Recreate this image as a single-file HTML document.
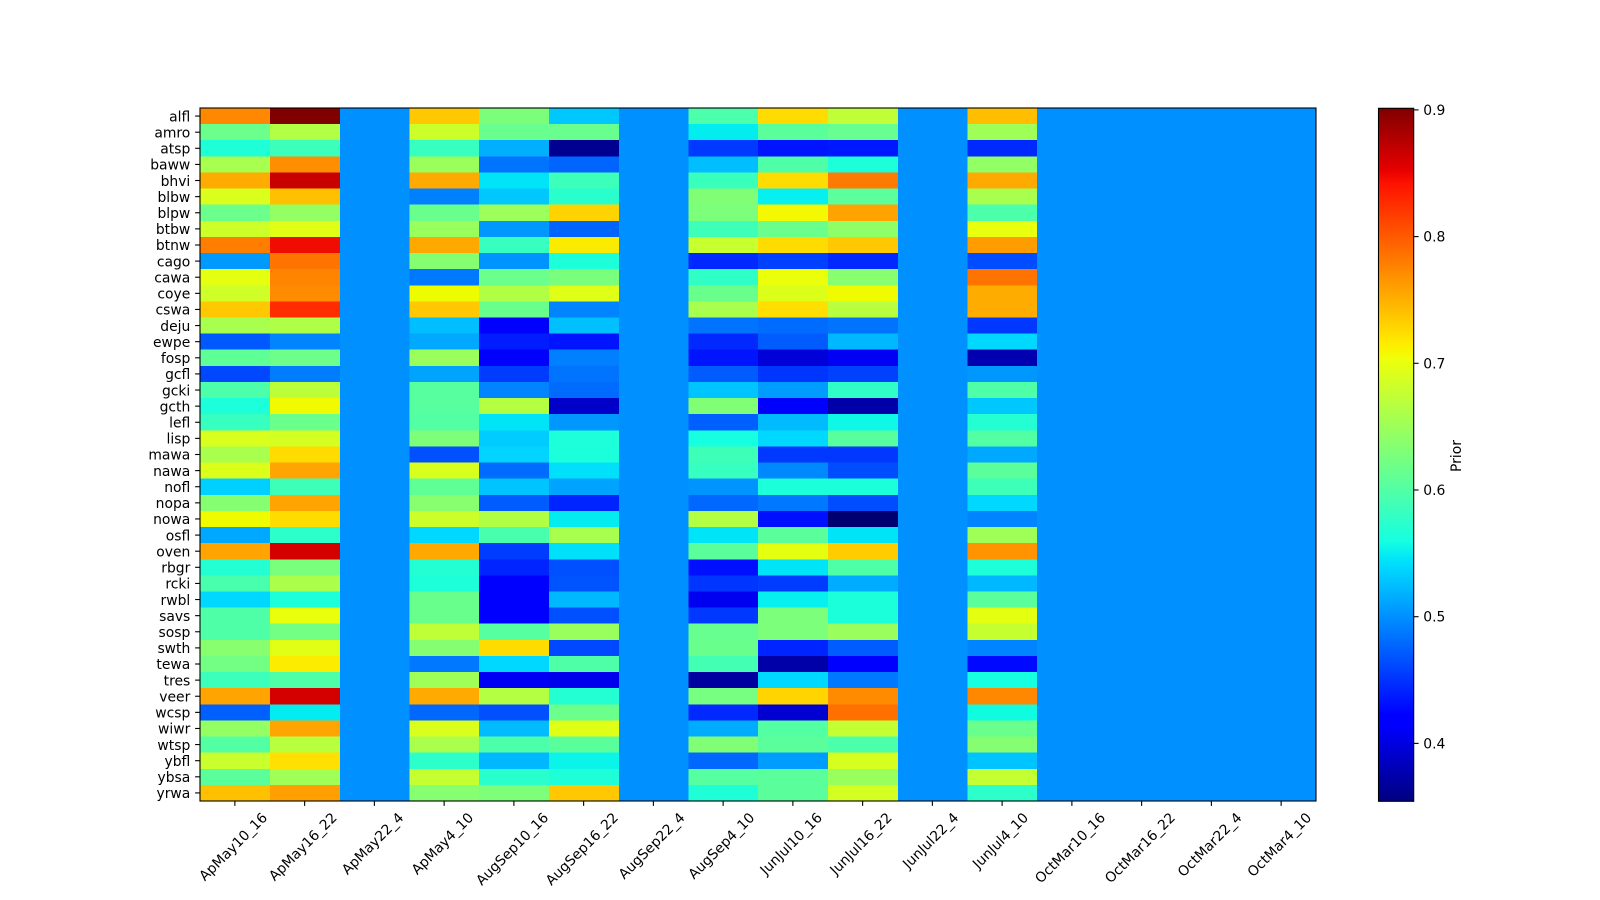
<!DOCTYPE html>
<html><head><meta charset="utf-8"><style>
html,body{margin:0;padding:0;background:#fff;}
svg{display:block;}
text{font-family:"DejaVu Sans","Liberation Sans",sans-serif;font-size:13.9px;fill:#000;}
</style></head><body>
<svg width="1600" height="900" viewBox="0 0 1600 900" xmlns="http://www.w3.org/2000/svg">
<defs>
<linearGradient id="jet" x1="0" y1="1" x2="0" y2="0">
<stop offset="0" stop-color="#000080"/>
<stop offset="0.11" stop-color="#0000FF"/>
<stop offset="0.125" stop-color="#0000FF"/>
<stop offset="0.34" stop-color="#00DBFF"/>
<stop offset="0.35" stop-color="#00E6F7"/>
<stop offset="0.375" stop-color="#15FFE2"/>
<stop offset="0.64" stop-color="#EFFF08"/>
<stop offset="0.65" stop-color="#F7F500"/>
<stop offset="0.66" stop-color="#FFEC00"/>
<stop offset="0.89" stop-color="#FF1300"/>
<stop offset="0.91" stop-color="#E80000"/>
<stop offset="1" stop-color="#800000"/>
</linearGradient>
</defs>
<rect x="0" y="0" width="1600" height="900" fill="#fff"/>
<rect x="200" y="108" width="1116" height="693" fill="#0090FF"/>
<g shape-rendering="crispEdges">
<g transform="translate(0,108.00)"><rect x="200" width="70.2" height="16.6" fill="#FF8800"/><rect x="269.75" width="70.2" height="16.6" fill="#800000"/><rect x="409.25" width="70.2" height="16.6" fill="#FFC800"/><rect x="479" width="70.2" height="16.6" fill="#7BFF7B"/><rect x="548.75" width="70.2" height="16.6" fill="#00C8FF"/><rect x="688.25" width="70.2" height="16.6" fill="#4BFFAB"/><rect x="758" width="70.2" height="16.6" fill="#FFDB00"/><rect x="827.75" width="70.2" height="16.6" fill="#C0FF37"/><rect x="967.25" width="69.75" height="16.6" fill="#FFBF00"/></g>
<g transform="translate(0,124.12)"><rect x="200" width="70.2" height="16.6" fill="#6BFF8B"/><rect x="269.75" width="70.2" height="16.6" fill="#B3FF43"/><rect x="409.25" width="70.2" height="16.6" fill="#CCFF2A"/><rect x="479" width="70.2" height="16.6" fill="#69FF8E"/><rect x="548.75" width="70.2" height="16.6" fill="#69FF8E"/><rect x="688.25" width="70.2" height="16.6" fill="#03ECF0"/><rect x="758" width="70.2" height="16.6" fill="#5AFF9C"/><rect x="827.75" width="70.2" height="16.6" fill="#66FF90"/><rect x="967.25" width="69.75" height="16.6" fill="#A0FF56"/></g>
<g transform="translate(0,140.23)"><rect x="200" width="70.2" height="16.6" fill="#1EFFD8"/><rect x="269.75" width="70.2" height="16.6" fill="#3BFFBB"/><rect x="409.25" width="70.2" height="16.6" fill="#36FFC0"/><rect x="479" width="70.2" height="16.6" fill="#00B0FF"/><rect x="548.75" width="70.2" height="16.6" fill="#000090"/><rect x="688.25" width="70.2" height="16.6" fill="#0039FF"/><rect x="758" width="70.2" height="16.6" fill="#0014FF"/><rect x="827.75" width="70.2" height="16.6" fill="#0018FF"/><rect x="967.25" width="69.75" height="16.6" fill="#0029FF"/></g>
<g transform="translate(0,156.35)"><rect x="200" width="70.2" height="16.6" fill="#A9FF4D"/><rect x="269.75" width="70.2" height="16.6" fill="#FF8E00"/><rect x="409.25" width="70.2" height="16.6" fill="#9BFF5B"/><rect x="479" width="70.2" height="16.6" fill="#0074FF"/><rect x="548.75" width="70.2" height="16.6" fill="#0064FF"/><rect x="688.25" width="70.2" height="16.6" fill="#00BEFF"/><rect x="758" width="70.2" height="16.6" fill="#4FFFA7"/><rect x="827.75" width="70.2" height="16.6" fill="#1DFFD9"/><rect x="967.25" width="69.75" height="16.6" fill="#92FF64"/></g>
<g transform="translate(0,172.46)"><rect x="200" width="70.2" height="16.6" fill="#FFAC00"/><rect x="269.75" width="70.2" height="16.6" fill="#C80000"/><rect x="409.25" width="70.2" height="16.6" fill="#FFAA00"/><rect x="479" width="70.2" height="16.6" fill="#00E4F8"/><rect x="548.75" width="70.2" height="16.6" fill="#3CFFBA"/><rect x="688.25" width="70.2" height="16.6" fill="#39FFBD"/><rect x="758" width="70.2" height="16.6" fill="#FFDC00"/><rect x="827.75" width="70.2" height="16.6" fill="#FF7A00"/><rect x="967.25" width="69.75" height="16.6" fill="#FFAA00"/></g>
<g transform="translate(0,188.58)"><rect x="200" width="70.2" height="16.6" fill="#DAFF1C"/><rect x="269.75" width="70.2" height="16.6" fill="#FFC000"/><rect x="409.25" width="70.2" height="16.6" fill="#0080FF"/><rect x="479" width="70.2" height="16.6" fill="#00C8FF"/><rect x="548.75" width="70.2" height="16.6" fill="#29FFCD"/><rect x="688.25" width="70.2" height="16.6" fill="#80FF76"/><rect x="758" width="70.2" height="16.6" fill="#06F0F0"/><rect x="827.75" width="70.2" height="16.6" fill="#5BFF9B"/><rect x="967.25" width="69.75" height="16.6" fill="#A8FF4E"/></g>
<g transform="translate(0,204.70)"><rect x="200" width="70.2" height="16.6" fill="#6BFF8B"/><rect x="269.75" width="70.2" height="16.6" fill="#93FF63"/><rect x="409.25" width="70.2" height="16.6" fill="#69FF8D"/><rect x="479" width="70.2" height="16.6" fill="#9CFF5A"/><rect x="548.75" width="70.2" height="16.6" fill="#FFD300"/><rect x="688.25" width="70.2" height="16.6" fill="#7CFF7A"/><rect x="758" width="70.2" height="16.6" fill="#F4F800"/><rect x="827.75" width="70.2" height="16.6" fill="#FFA300"/><rect x="967.25" width="69.75" height="16.6" fill="#4BFFAB"/></g>
<g transform="translate(0,220.81)"><rect x="200" width="70.2" height="16.6" fill="#CDFF29"/><rect x="269.75" width="70.2" height="16.6" fill="#E1FF15"/><rect x="409.25" width="70.2" height="16.6" fill="#99FF5D"/><rect x="479" width="70.2" height="16.6" fill="#0098FF"/><rect x="548.75" width="70.2" height="16.6" fill="#0064FF"/><rect x="688.25" width="70.2" height="16.6" fill="#3EFFB8"/><rect x="758" width="70.2" height="16.6" fill="#6AFF8C"/><rect x="827.75" width="70.2" height="16.6" fill="#8FFF67"/><rect x="967.25" width="69.75" height="16.6" fill="#E8FF0E"/></g>
<g transform="translate(0,236.93)"><rect x="200" width="70.2" height="16.6" fill="#FF7E00"/><rect x="269.75" width="70.2" height="16.6" fill="#F00C00"/><rect x="409.25" width="70.2" height="16.6" fill="#FFA800"/><rect x="479" width="70.2" height="16.6" fill="#36FFC0"/><rect x="548.75" width="70.2" height="16.6" fill="#FAEB00"/><rect x="688.25" width="70.2" height="16.6" fill="#C8FF2E"/><rect x="758" width="70.2" height="16.6" fill="#FFDC00"/><rect x="827.75" width="70.2" height="16.6" fill="#FFC800"/><rect x="967.25" width="69.75" height="16.6" fill="#FF9C00"/></g>
<g transform="translate(0,253.04)"><rect x="200" width="70.2" height="16.6" fill="#009AFF"/><rect x="269.75" width="70.2" height="16.6" fill="#FF7400"/><rect x="409.25" width="70.2" height="16.6" fill="#85FF71"/><rect x="479" width="70.2" height="16.6" fill="#0094FF"/><rect x="548.75" width="70.2" height="16.6" fill="#1DFFD9"/><rect x="688.25" width="70.2" height="16.6" fill="#0028FF"/><rect x="758" width="70.2" height="16.6" fill="#0040FF"/><rect x="827.75" width="70.2" height="16.6" fill="#0028FF"/><rect x="967.25" width="69.75" height="16.6" fill="#004CFF"/></g>
<g transform="translate(0,269.16)"><rect x="200" width="70.2" height="16.6" fill="#E5FF11"/><rect x="269.75" width="70.2" height="16.6" fill="#FF8400"/><rect x="409.25" width="70.2" height="16.6" fill="#0078FF"/><rect x="479" width="70.2" height="16.6" fill="#6BFF8B"/><rect x="548.75" width="70.2" height="16.6" fill="#7AFF7C"/><rect x="688.25" width="70.2" height="16.6" fill="#2FFFC7"/><rect x="758" width="70.2" height="16.6" fill="#EBFF0B"/><rect x="827.75" width="70.2" height="16.6" fill="#88FF6E"/><rect x="967.25" width="69.75" height="16.6" fill="#FF7400"/></g>
<g transform="translate(0,285.28)"><rect x="200" width="70.2" height="16.6" fill="#CFFF27"/><rect x="269.75" width="70.2" height="16.6" fill="#FF8C00"/><rect x="409.25" width="70.2" height="16.6" fill="#EEFC00"/><rect x="479" width="70.2" height="16.6" fill="#B1FF45"/><rect x="548.75" width="70.2" height="16.6" fill="#E0FF16"/><rect x="688.25" width="70.2" height="16.6" fill="#69FF8D"/><rect x="758" width="70.2" height="16.6" fill="#DCFF1A"/><rect x="827.75" width="70.2" height="16.6" fill="#F1FB00"/><rect x="967.25" width="69.75" height="16.6" fill="#FFAC00"/></g>
<g transform="translate(0,301.39)"><rect x="200" width="70.2" height="16.6" fill="#FFC800"/><rect x="269.75" width="70.2" height="16.6" fill="#FF2C00"/><rect x="409.25" width="70.2" height="16.6" fill="#FFC800"/><rect x="479" width="70.2" height="16.6" fill="#69FF8D"/><rect x="548.75" width="70.2" height="16.6" fill="#0084FF"/><rect x="688.25" width="70.2" height="16.6" fill="#A9FF4D"/><rect x="758" width="70.2" height="16.6" fill="#FFDE00"/><rect x="827.75" width="70.2" height="16.6" fill="#B9FF3D"/><rect x="967.25" width="69.75" height="16.6" fill="#FFAC00"/></g>
<g transform="translate(0,317.51)"><rect x="200" width="70.2" height="16.6" fill="#A9FF4D"/><rect x="269.75" width="70.2" height="16.6" fill="#AFFF47"/><rect x="409.25" width="70.2" height="16.6" fill="#00BEFF"/><rect x="479" width="70.2" height="16.6" fill="#0000FF"/><rect x="548.75" width="70.2" height="16.6" fill="#00C0FF"/><rect x="688.25" width="70.2" height="16.6" fill="#0074FF"/><rect x="758" width="70.2" height="16.6" fill="#006CFF"/><rect x="827.75" width="70.2" height="16.6" fill="#0074FF"/><rect x="967.25" width="69.75" height="16.6" fill="#0038FF"/></g>
<g transform="translate(0,333.62)"><rect x="200" width="70.2" height="16.6" fill="#0058FF"/><rect x="269.75" width="70.2" height="16.6" fill="#0084FF"/><rect x="409.25" width="70.2" height="16.6" fill="#00A8FF"/><rect x="479" width="70.2" height="16.6" fill="#001CFF"/><rect x="548.75" width="70.2" height="16.6" fill="#0014FF"/><rect x="688.25" width="70.2" height="16.6" fill="#0028FF"/><rect x="758" width="70.2" height="16.6" fill="#005CFF"/><rect x="827.75" width="70.2" height="16.6" fill="#00B8FF"/><rect x="967.25" width="69.75" height="16.6" fill="#00D8FF"/></g>
<g transform="translate(0,349.74)"><rect x="200" width="70.2" height="16.6" fill="#5FFF97"/><rect x="269.75" width="70.2" height="16.6" fill="#6DFF89"/><rect x="409.25" width="70.2" height="16.6" fill="#9AFF5C"/><rect x="479" width="70.2" height="16.6" fill="#0000FF"/><rect x="548.75" width="70.2" height="16.6" fill="#0080FF"/><rect x="688.25" width="70.2" height="16.6" fill="#0014FF"/><rect x="758" width="70.2" height="16.6" fill="#0000D8"/><rect x="827.75" width="70.2" height="16.6" fill="#0000F4"/><rect x="967.25" width="69.75" height="16.6" fill="#0000B0"/></g>
<g transform="translate(0,365.86)"><rect x="200" width="70.2" height="16.6" fill="#0048FF"/><rect x="269.75" width="70.2" height="16.6" fill="#007CFF"/><rect x="409.25" width="70.2" height="16.6" fill="#00A4FF"/><rect x="479" width="70.2" height="16.6" fill="#003CFF"/><rect x="548.75" width="70.2" height="16.6" fill="#0074FF"/><rect x="688.25" width="70.2" height="16.6" fill="#005CFF"/><rect x="758" width="70.2" height="16.6" fill="#0034FF"/><rect x="827.75" width="70.2" height="16.6" fill="#0040FF"/><rect x="967.25" width="69.75" height="16.6" fill="#0098FF"/></g>
<g transform="translate(0,381.97)"><rect x="200" width="70.2" height="16.6" fill="#4BFFAB"/><rect x="269.75" width="70.2" height="16.6" fill="#BBFF3B"/><rect x="409.25" width="70.2" height="16.6" fill="#58FF9E"/><rect x="479" width="70.2" height="16.6" fill="#0084FF"/><rect x="548.75" width="70.2" height="16.6" fill="#006CFF"/><rect x="688.25" width="70.2" height="16.6" fill="#00C4FF"/><rect x="758" width="70.2" height="16.6" fill="#009CFF"/><rect x="827.75" width="70.2" height="16.6" fill="#2FFFC7"/><rect x="967.25" width="69.75" height="16.6" fill="#4EFFA8"/></g>
<g transform="translate(0,398.09)"><rect x="200" width="70.2" height="16.6" fill="#1BFFDB"/><rect x="269.75" width="70.2" height="16.6" fill="#F2FA00"/><rect x="409.25" width="70.2" height="16.6" fill="#58FF9E"/><rect x="479" width="70.2" height="16.6" fill="#B4FF42"/><rect x="548.75" width="70.2" height="16.6" fill="#0000C8"/><rect x="688.25" width="70.2" height="16.6" fill="#80FF76"/><rect x="758" width="70.2" height="16.6" fill="#0000FF"/><rect x="827.75" width="70.2" height="16.6" fill="#0000A8"/><rect x="967.25" width="69.75" height="16.6" fill="#00C8FF"/></g>
<g transform="translate(0,414.20)"><rect x="200" width="70.2" height="16.6" fill="#36FFC0"/><rect x="269.75" width="70.2" height="16.6" fill="#6BFF8B"/><rect x="409.25" width="70.2" height="16.6" fill="#53FFA3"/><rect x="479" width="70.2" height="16.6" fill="#00E4F8"/><rect x="548.75" width="70.2" height="16.6" fill="#0098FF"/><rect x="688.25" width="70.2" height="16.6" fill="#0060FF"/><rect x="758" width="70.2" height="16.6" fill="#00BCFF"/><rect x="827.75" width="70.2" height="16.6" fill="#0FF8E6"/><rect x="967.25" width="69.75" height="16.6" fill="#23FFD3"/></g>
<g transform="translate(0,430.32)"><rect x="200" width="70.2" height="16.6" fill="#D9FF1D"/><rect x="269.75" width="70.2" height="16.6" fill="#D4FF22"/><rect x="409.25" width="70.2" height="16.6" fill="#7DFF79"/><rect x="479" width="70.2" height="16.6" fill="#00CCFF"/><rect x="548.75" width="70.2" height="16.6" fill="#1DFFD9"/><rect x="688.25" width="70.2" height="16.6" fill="#16FFE0"/><rect x="758" width="70.2" height="16.6" fill="#00D8FF"/><rect x="827.75" width="70.2" height="16.6" fill="#58FF9E"/><rect x="967.25" width="69.75" height="16.6" fill="#53FFA3"/></g>
<g transform="translate(0,446.44)"><rect x="200" width="70.2" height="16.6" fill="#A8FF4E"/><rect x="269.75" width="70.2" height="16.6" fill="#FFDC00"/><rect x="409.25" width="70.2" height="16.6" fill="#0050FF"/><rect x="479" width="70.2" height="16.6" fill="#00D4FF"/><rect x="548.75" width="70.2" height="16.6" fill="#1BFFDB"/><rect x="688.25" width="70.2" height="16.6" fill="#3EFFB8"/><rect x="758" width="70.2" height="16.6" fill="#0038FF"/><rect x="827.75" width="70.2" height="16.6" fill="#0038FF"/><rect x="967.25" width="69.75" height="16.6" fill="#00A8FF"/></g>
<g transform="translate(0,462.55)"><rect x="200" width="70.2" height="16.6" fill="#DCFF1A"/><rect x="269.75" width="70.2" height="16.6" fill="#FFA400"/><rect x="409.25" width="70.2" height="16.6" fill="#D8FF1E"/><rect x="479" width="70.2" height="16.6" fill="#006CFF"/><rect x="548.75" width="70.2" height="16.6" fill="#00E0FA"/><rect x="688.25" width="70.2" height="16.6" fill="#36FFC0"/><rect x="758" width="70.2" height="16.6" fill="#0088FF"/><rect x="827.75" width="70.2" height="16.6" fill="#004CFF"/><rect x="967.25" width="69.75" height="16.6" fill="#5AFF9C"/></g>
<g transform="translate(0,478.67)"><rect x="200" width="70.2" height="16.6" fill="#00D0FF"/><rect x="269.75" width="70.2" height="16.6" fill="#3EFFB8"/><rect x="409.25" width="70.2" height="16.6" fill="#60FF96"/><rect x="479" width="70.2" height="16.6" fill="#00C4FF"/><rect x="548.75" width="70.2" height="16.6" fill="#00A4FF"/><rect x="688.25" width="70.2" height="16.6" fill="#0094FF"/><rect x="758" width="70.2" height="16.6" fill="#1BFFDB"/><rect x="827.75" width="70.2" height="16.6" fill="#1BFFDB"/><rect x="967.25" width="69.75" height="16.6" fill="#3EFFB8"/></g>
<g transform="translate(0,494.78)"><rect x="200" width="70.2" height="16.6" fill="#85FF71"/><rect x="269.75" width="70.2" height="16.6" fill="#FFA400"/><rect x="409.25" width="70.2" height="16.6" fill="#88FF6E"/><rect x="479" width="70.2" height="16.6" fill="#005CFF"/><rect x="548.75" width="70.2" height="16.6" fill="#0024FF"/><rect x="688.25" width="70.2" height="16.6" fill="#0068FF"/><rect x="758" width="70.2" height="16.6" fill="#0078FF"/><rect x="827.75" width="70.2" height="16.6" fill="#004CFF"/><rect x="967.25" width="69.75" height="16.6" fill="#00D8FF"/></g>
<g transform="translate(0,510.90)"><rect x="200" width="70.2" height="16.6" fill="#F1FB00"/><rect x="269.75" width="70.2" height="16.6" fill="#FFDC00"/><rect x="409.25" width="70.2" height="16.6" fill="#CCFF2A"/><rect x="479" width="70.2" height="16.6" fill="#B1FF45"/><rect x="548.75" width="70.2" height="16.6" fill="#03ECF0"/><rect x="688.25" width="70.2" height="16.6" fill="#B3FF43"/><rect x="758" width="70.2" height="16.6" fill="#0010FF"/><rect x="827.75" width="70.2" height="16.6" fill="#000070"/><rect x="967.25" width="69.75" height="16.6" fill="#0084FF"/></g>
<g transform="translate(0,527.02)"><rect x="200" width="70.2" height="16.6" fill="#00A8FF"/><rect x="269.75" width="70.2" height="16.6" fill="#2CFFCA"/><rect x="409.25" width="70.2" height="16.6" fill="#00D8FF"/><rect x="479" width="70.2" height="16.6" fill="#48FFAE"/><rect x="548.75" width="70.2" height="16.6" fill="#A9FF4D"/><rect x="688.25" width="70.2" height="16.6" fill="#00E4F8"/><rect x="758" width="70.2" height="16.6" fill="#5AFF9C"/><rect x="827.75" width="70.2" height="16.6" fill="#00E4F8"/><rect x="967.25" width="69.75" height="16.6" fill="#A0FF56"/></g>
<g transform="translate(0,543.13)"><rect x="200" width="70.2" height="16.6" fill="#FFA400"/><rect x="269.75" width="70.2" height="16.6" fill="#D40000"/><rect x="409.25" width="70.2" height="16.6" fill="#FFA800"/><rect x="479" width="70.2" height="16.6" fill="#003CFF"/><rect x="548.75" width="70.2" height="16.6" fill="#00E0FA"/><rect x="688.25" width="70.2" height="16.6" fill="#5AFF9C"/><rect x="758" width="70.2" height="16.6" fill="#E5FF11"/><rect x="827.75" width="70.2" height="16.6" fill="#FFCC00"/><rect x="967.25" width="69.75" height="16.6" fill="#FF9400"/></g>
<g transform="translate(0,559.25)"><rect x="200" width="70.2" height="16.6" fill="#23FFD3"/><rect x="269.75" width="70.2" height="16.6" fill="#7AFF7C"/><rect x="409.25" width="70.2" height="16.6" fill="#23FFD3"/><rect x="479" width="70.2" height="16.6" fill="#0024FF"/><rect x="548.75" width="70.2" height="16.6" fill="#0050FF"/><rect x="688.25" width="70.2" height="16.6" fill="#0010FF"/><rect x="758" width="70.2" height="16.6" fill="#00E4F8"/><rect x="827.75" width="70.2" height="16.6" fill="#4FFFA7"/><rect x="967.25" width="69.75" height="16.6" fill="#1DFFD9"/></g>
<g transform="translate(0,575.36)"><rect x="200" width="70.2" height="16.6" fill="#48FFAE"/><rect x="269.75" width="70.2" height="16.6" fill="#ABFF4B"/><rect x="409.25" width="70.2" height="16.6" fill="#1DFFD9"/><rect x="479" width="70.2" height="16.6" fill="#0000FF"/><rect x="548.75" width="70.2" height="16.6" fill="#0054FF"/><rect x="688.25" width="70.2" height="16.6" fill="#0034FF"/><rect x="758" width="70.2" height="16.6" fill="#003CFF"/><rect x="827.75" width="70.2" height="16.6" fill="#00ACFF"/><rect x="967.25" width="69.75" height="16.6" fill="#00B8FF"/></g>
<g transform="translate(0,591.48)"><rect x="200" width="70.2" height="16.6" fill="#00D8FF"/><rect x="269.75" width="70.2" height="16.6" fill="#1DFFD9"/><rect x="409.25" width="70.2" height="16.6" fill="#69FF8D"/><rect x="479" width="70.2" height="16.6" fill="#0000FF"/><rect x="548.75" width="70.2" height="16.6" fill="#00B8FF"/><rect x="688.25" width="70.2" height="16.6" fill="#0000F0"/><rect x="758" width="70.2" height="16.6" fill="#06F0F0"/><rect x="827.75" width="70.2" height="16.6" fill="#1BFFDB"/><rect x="967.25" width="69.75" height="16.6" fill="#5AFF9C"/></g>
<g transform="translate(0,607.60)"><rect x="200" width="70.2" height="16.6" fill="#4EFFA8"/><rect x="269.75" width="70.2" height="16.6" fill="#EAFF0C"/><rect x="409.25" width="70.2" height="16.6" fill="#69FF8D"/><rect x="479" width="70.2" height="16.6" fill="#0000FF"/><rect x="548.75" width="70.2" height="16.6" fill="#0050FF"/><rect x="688.25" width="70.2" height="16.6" fill="#0038FF"/><rect x="758" width="70.2" height="16.6" fill="#7CFF7A"/><rect x="827.75" width="70.2" height="16.6" fill="#1BFFDB"/><rect x="967.25" width="69.75" height="16.6" fill="#E5FF11"/></g>
<g transform="translate(0,623.71)"><rect x="200" width="70.2" height="16.6" fill="#4EFFA8"/><rect x="269.75" width="70.2" height="16.6" fill="#72FF84"/><rect x="409.25" width="70.2" height="16.6" fill="#BEFF38"/><rect x="479" width="70.2" height="16.6" fill="#56FF9F"/><rect x="548.75" width="70.2" height="16.6" fill="#99FF5D"/><rect x="688.25" width="70.2" height="16.6" fill="#66FF90"/><rect x="758" width="70.2" height="16.6" fill="#7CFF7A"/><rect x="827.75" width="70.2" height="16.6" fill="#9AFF5C"/><rect x="967.25" width="69.75" height="16.6" fill="#C6FF30"/></g>
<g transform="translate(0,639.83)"><rect x="200" width="70.2" height="16.6" fill="#88FF6E"/><rect x="269.75" width="70.2" height="16.6" fill="#E1FF15"/><rect x="409.25" width="70.2" height="16.6" fill="#85FF71"/><rect x="479" width="70.2" height="16.6" fill="#FFDC00"/><rect x="548.75" width="70.2" height="16.6" fill="#0048FF"/><rect x="688.25" width="70.2" height="16.6" fill="#69FF8D"/><rect x="758" width="70.2" height="16.6" fill="#0024FF"/><rect x="827.75" width="70.2" height="16.6" fill="#005CFF"/><rect x="967.25" width="69.75" height="16.6" fill="#0084FF"/></g>
<g transform="translate(0,655.94)"><rect x="200" width="70.2" height="16.6" fill="#72FF84"/><rect x="269.75" width="70.2" height="16.6" fill="#FBEC00"/><rect x="409.25" width="70.2" height="16.6" fill="#0078FF"/><rect x="479" width="70.2" height="16.6" fill="#00D8FF"/><rect x="548.75" width="70.2" height="16.6" fill="#4EFFA8"/><rect x="688.25" width="70.2" height="16.6" fill="#43FFB3"/><rect x="758" width="70.2" height="16.6" fill="#0000A8"/><rect x="827.75" width="70.2" height="16.6" fill="#0000FF"/><rect x="967.25" width="69.75" height="16.6" fill="#0008FF"/></g>
<g transform="translate(0,672.06)"><rect x="200" width="70.2" height="16.6" fill="#3BFFBB"/><rect x="269.75" width="70.2" height="16.6" fill="#4EFFA8"/><rect x="409.25" width="70.2" height="16.6" fill="#A0FF56"/><rect x="479" width="70.2" height="16.6" fill="#0000F4"/><rect x="548.75" width="70.2" height="16.6" fill="#0000EC"/><rect x="688.25" width="70.2" height="16.6" fill="#0000A0"/><rect x="758" width="70.2" height="16.6" fill="#00D8FF"/><rect x="827.75" width="70.2" height="16.6" fill="#0078FF"/><rect x="967.25" width="69.75" height="16.6" fill="#16FFE0"/></g>
<g transform="translate(0,688.18)"><rect x="200" width="70.2" height="16.6" fill="#FFA400"/><rect x="269.75" width="70.2" height="16.6" fill="#D40000"/><rect x="409.25" width="70.2" height="16.6" fill="#FFAA00"/><rect x="479" width="70.2" height="16.6" fill="#B4FF42"/><rect x="548.75" width="70.2" height="16.6" fill="#23FFD3"/><rect x="688.25" width="70.2" height="16.6" fill="#76FF80"/><rect x="758" width="70.2" height="16.6" fill="#FFD400"/><rect x="827.75" width="70.2" height="16.6" fill="#FF8C00"/><rect x="967.25" width="69.75" height="16.6" fill="#FF8800"/></g>
<g transform="translate(0,704.29)"><rect x="200" width="70.2" height="16.6" fill="#0060FF"/><rect x="269.75" width="70.2" height="16.6" fill="#03ECF0"/><rect x="409.25" width="70.2" height="16.6" fill="#0068FF"/><rect x="479" width="70.2" height="16.6" fill="#0050FF"/><rect x="548.75" width="70.2" height="16.6" fill="#6BFF8B"/><rect x="688.25" width="70.2" height="16.6" fill="#0028FF"/><rect x="758" width="70.2" height="16.6" fill="#0000D0"/><rect x="827.75" width="70.2" height="16.6" fill="#FF7000"/><rect x="967.25" width="69.75" height="16.6" fill="#0FFCE0"/></g>
<g transform="translate(0,720.41)"><rect x="200" width="70.2" height="16.6" fill="#93FF63"/><rect x="269.75" width="70.2" height="16.6" fill="#FFA400"/><rect x="409.25" width="70.2" height="16.6" fill="#DAFF1C"/><rect x="479" width="70.2" height="16.6" fill="#00BCFF"/><rect x="548.75" width="70.2" height="16.6" fill="#DFFF17"/><rect x="688.25" width="70.2" height="16.6" fill="#00ACFF"/><rect x="758" width="70.2" height="16.6" fill="#53FFA3"/><rect x="827.75" width="70.2" height="16.6" fill="#C3FF33"/><rect x="967.25" width="69.75" height="16.6" fill="#69FF8D"/></g>
<g transform="translate(0,736.52)"><rect x="200" width="70.2" height="16.6" fill="#53FFA3"/><rect x="269.75" width="70.2" height="16.6" fill="#B8FF3E"/><rect x="409.25" width="70.2" height="16.6" fill="#AAFF4C"/><rect x="479" width="70.2" height="16.6" fill="#4BFFAB"/><rect x="548.75" width="70.2" height="16.6" fill="#5AFF9C"/><rect x="688.25" width="70.2" height="16.6" fill="#80FF76"/><rect x="758" width="70.2" height="16.6" fill="#5AFF9C"/><rect x="827.75" width="70.2" height="16.6" fill="#4BFFAB"/><rect x="967.25" width="69.75" height="16.6" fill="#85FF71"/></g>
<g transform="translate(0,752.64)"><rect x="200" width="70.2" height="16.6" fill="#C9FF2D"/><rect x="269.75" width="70.2" height="16.6" fill="#FFE000"/><rect x="409.25" width="70.2" height="16.6" fill="#2CFFCA"/><rect x="479" width="70.2" height="16.6" fill="#00B8FF"/><rect x="548.75" width="70.2" height="16.6" fill="#0AF4EA"/><rect x="688.25" width="70.2" height="16.6" fill="#0068FF"/><rect x="758" width="70.2" height="16.6" fill="#009CFF"/><rect x="827.75" width="70.2" height="16.6" fill="#D6FF20"/><rect x="967.25" width="69.75" height="16.6" fill="#00C4FF"/></g>
<g transform="translate(0,768.76)"><rect x="200" width="70.2" height="16.6" fill="#5AFF9C"/><rect x="269.75" width="70.2" height="16.6" fill="#A0FF56"/><rect x="409.25" width="70.2" height="16.6" fill="#C6FF30"/><rect x="479" width="70.2" height="16.6" fill="#29FFCD"/><rect x="548.75" width="70.2" height="16.6" fill="#1EFFD8"/><rect x="688.25" width="70.2" height="16.6" fill="#56FF9F"/><rect x="758" width="70.2" height="16.6" fill="#5AFF9C"/><rect x="827.75" width="70.2" height="16.6" fill="#99FF5D"/><rect x="967.25" width="69.75" height="16.6" fill="#C3FF33"/></g>
<g transform="translate(0,784.87)"><rect x="200" width="70.2" height="16.13" fill="#FFC000"/><rect x="269.75" width="70.2" height="16.13" fill="#FFA000"/><rect x="409.25" width="70.2" height="16.13" fill="#86FF70"/><rect x="479" width="70.2" height="16.13" fill="#7DFF79"/><rect x="548.75" width="70.2" height="16.13" fill="#FFC800"/><rect x="688.25" width="70.2" height="16.13" fill="#1EFFD8"/><rect x="758" width="70.2" height="16.13" fill="#5AFF9C"/><rect x="827.75" width="70.2" height="16.13" fill="#D4FF22"/><rect x="967.25" width="69.75" height="16.13" fill="#2CFFCA"/></g>
</g>
<!-- axes frame -->
<rect x="200" y="108" width="1116" height="693" fill="none" stroke="#000" stroke-width="1.1"/>
<!-- y ticks -->
<g stroke="#000" stroke-width="1.1">
<line x1="195.1" x2="200" y1="116.06" y2="116.06"/><line x1="195.1" x2="200" y1="132.18" y2="132.18"/><line x1="195.1" x2="200" y1="148.29" y2="148.29"/><line x1="195.1" x2="200" y1="164.41" y2="164.41"/><line x1="195.1" x2="200" y1="180.52" y2="180.52"/><line x1="195.1" x2="200" y1="196.64" y2="196.64"/><line x1="195.1" x2="200" y1="212.76" y2="212.76"/><line x1="195.1" x2="200" y1="228.87" y2="228.87"/><line x1="195.1" x2="200" y1="244.99" y2="244.99"/><line x1="195.1" x2="200" y1="261.10" y2="261.10"/><line x1="195.1" x2="200" y1="277.22" y2="277.22"/><line x1="195.1" x2="200" y1="293.34" y2="293.34"/><line x1="195.1" x2="200" y1="309.45" y2="309.45"/><line x1="195.1" x2="200" y1="325.57" y2="325.57"/><line x1="195.1" x2="200" y1="341.68" y2="341.68"/><line x1="195.1" x2="200" y1="357.80" y2="357.80"/><line x1="195.1" x2="200" y1="373.92" y2="373.92"/><line x1="195.1" x2="200" y1="390.03" y2="390.03"/><line x1="195.1" x2="200" y1="406.15" y2="406.15"/><line x1="195.1" x2="200" y1="422.26" y2="422.26"/><line x1="195.1" x2="200" y1="438.38" y2="438.38"/><line x1="195.1" x2="200" y1="454.50" y2="454.50"/><line x1="195.1" x2="200" y1="470.61" y2="470.61"/><line x1="195.1" x2="200" y1="486.73" y2="486.73"/><line x1="195.1" x2="200" y1="502.84" y2="502.84"/><line x1="195.1" x2="200" y1="518.96" y2="518.96"/><line x1="195.1" x2="200" y1="535.08" y2="535.08"/><line x1="195.1" x2="200" y1="551.19" y2="551.19"/><line x1="195.1" x2="200" y1="567.31" y2="567.31"/><line x1="195.1" x2="200" y1="583.42" y2="583.42"/><line x1="195.1" x2="200" y1="599.54" y2="599.54"/><line x1="195.1" x2="200" y1="615.66" y2="615.66"/><line x1="195.1" x2="200" y1="631.77" y2="631.77"/><line x1="195.1" x2="200" y1="647.89" y2="647.89"/><line x1="195.1" x2="200" y1="664.00" y2="664.00"/><line x1="195.1" x2="200" y1="680.12" y2="680.12"/><line x1="195.1" x2="200" y1="696.24" y2="696.24"/><line x1="195.1" x2="200" y1="712.35" y2="712.35"/><line x1="195.1" x2="200" y1="728.47" y2="728.47"/><line x1="195.1" x2="200" y1="744.58" y2="744.58"/><line x1="195.1" x2="200" y1="760.70" y2="760.70"/><line x1="195.1" x2="200" y1="776.82" y2="776.82"/><line x1="195.1" x2="200" y1="792.93" y2="792.93"/>
</g>
<!-- y labels -->
<g text-anchor="end">
<text x="190.3" y="121.3">alfl</text><text x="190.3" y="137.4">amro</text><text x="190.3" y="153.5">atsp</text><text x="190.3" y="169.7">baww</text><text x="190.3" y="185.8">bhvi</text><text x="190.3" y="201.9">blbw</text><text x="190.3" y="218.0">blpw</text><text x="190.3" y="234.1">btbw</text><text x="190.3" y="250.2">btnw</text><text x="190.3" y="266.3">cago</text><text x="190.3" y="282.5">cawa</text><text x="190.3" y="298.6">coye</text><text x="190.3" y="314.7">cswa</text><text x="190.3" y="330.8">deju</text><text x="190.3" y="346.9">ewpe</text><text x="190.3" y="363.0">fosp</text><text x="190.3" y="379.2">gcfl</text><text x="190.3" y="395.3">gcki</text><text x="190.3" y="411.4">gcth</text><text x="190.3" y="427.5">lefl</text><text x="190.3" y="443.6">lisp</text><text x="190.3" y="459.7">mawa</text><text x="190.3" y="475.9">nawa</text><text x="190.3" y="492.0">nofl</text><text x="190.3" y="508.1">nopa</text><text x="190.3" y="524.2">nowa</text><text x="190.3" y="540.3">osfl</text><text x="190.3" y="556.4">oven</text><text x="190.3" y="572.6">rbgr</text><text x="190.3" y="588.7">rcki</text><text x="190.3" y="604.8">rwbl</text><text x="190.3" y="620.9">savs</text><text x="190.3" y="637.0">sosp</text><text x="190.3" y="653.1">swth</text><text x="190.3" y="669.2">tewa</text><text x="190.3" y="685.4">tres</text><text x="190.3" y="701.5">veer</text><text x="190.3" y="717.6">wcsp</text><text x="190.3" y="733.7">wiwr</text><text x="190.3" y="749.8">wtsp</text><text x="190.3" y="765.9">ybfl</text><text x="190.3" y="782.1">ybsa</text><text x="190.3" y="798.2">yrwa</text>
</g>
<!-- x ticks -->
<g stroke="#000" stroke-width="1.1">
<line x1="234.88" x2="234.88" y1="801" y2="805.9"/><line x1="304.63" x2="304.63" y1="801" y2="805.9"/><line x1="374.38" x2="374.38" y1="801" y2="805.9"/><line x1="444.13" x2="444.13" y1="801" y2="805.9"/><line x1="513.88" x2="513.88" y1="801" y2="805.9"/><line x1="583.63" x2="583.63" y1="801" y2="805.9"/><line x1="653.38" x2="653.38" y1="801" y2="805.9"/><line x1="723.13" x2="723.13" y1="801" y2="805.9"/><line x1="792.88" x2="792.88" y1="801" y2="805.9"/><line x1="862.63" x2="862.63" y1="801" y2="805.9"/><line x1="932.38" x2="932.38" y1="801" y2="805.9"/><line x1="1002.13" x2="1002.13" y1="801" y2="805.9"/><line x1="1071.88" x2="1071.88" y1="801" y2="805.9"/><line x1="1141.63" x2="1141.63" y1="801" y2="805.9"/><line x1="1211.38" x2="1211.38" y1="801" y2="805.9"/><line x1="1281.13" x2="1281.13" y1="801" y2="805.9"/>
</g>
<!-- x labels -->
<g text-anchor="end">
<text x="268.1" y="818.5" transform="rotate(-45 268.1 818.5)">ApMay10_16</text>
<text x="337.8" y="818.5" transform="rotate(-45 337.8 818.5)">ApMay16_22</text>
<text x="404.4" y="818.5" transform="rotate(-45 404.4 818.5)">ApMay22_4</text>
<text x="474.2" y="818.5" transform="rotate(-45 474.2 818.5)">ApMay4_10</text>
<text x="549.3" y="818.5" transform="rotate(-45 549.3 818.5)">AugSep10_16</text>
<text x="619.0" y="818.5" transform="rotate(-45 619.0 818.5)">AugSep16_22</text>
<text x="685.6" y="818.5" transform="rotate(-45 685.6 818.5)">AugSep22_4</text>
<text x="755.4" y="818.5" transform="rotate(-45 755.4 818.5)">AugSep4_10</text>
<text x="823.0" y="818.5" transform="rotate(-45 823.0 818.5)">JunJul10_16</text>
<text x="892.8" y="818.5" transform="rotate(-45 892.8 818.5)">JunJul16_22</text>
<text x="959.4" y="818.5" transform="rotate(-45 959.4 818.5)">JunJul22_4</text>
<text x="1029.2" y="818.5" transform="rotate(-45 1029.2 818.5)">JunJul4_10</text>
<text x="1106.2" y="818.5" transform="rotate(-45 1106.2 818.5)">OctMar10_16</text>
<text x="1176.0" y="818.5" transform="rotate(-45 1176.0 818.5)">OctMar16_22</text>
<text x="1242.6" y="818.5" transform="rotate(-45 1242.6 818.5)">OctMar22_4</text>
<text x="1312.3" y="818.5" transform="rotate(-45 1312.3 818.5)">OctMar4_10</text>
</g>
<!-- colorbar -->
<rect x="1378.5" y="108.3" width="35.2" height="693" fill="url(#jet)" stroke="#000" stroke-width="1.1"/>
<g stroke="#000" stroke-width="1.1">
<line x1="1413.7" x2="1418.6" y1="109.9" y2="109.9"/><line x1="1413.7" x2="1418.6" y1="236.6" y2="236.6"/><line x1="1413.7" x2="1418.6" y1="363.3" y2="363.3"/><line x1="1413.7" x2="1418.6" y1="490.0" y2="490.0"/><line x1="1413.7" x2="1418.6" y1="616.7" y2="616.7"/><line x1="1413.7" x2="1418.6" y1="743.4" y2="743.4"/>
</g>
<g>
<text x="1423.3" y="114.9">0.9</text><text x="1423.3" y="241.6">0.8</text><text x="1423.3" y="368.3">0.7</text><text x="1423.3" y="495.0">0.6</text><text x="1423.3" y="621.7">0.5</text><text x="1423.3" y="748.4">0.4</text>
</g>
<text x="1461" y="456" text-anchor="middle" transform="rotate(-90 1461 456)">Prior</text>
</svg>
</body></html>
